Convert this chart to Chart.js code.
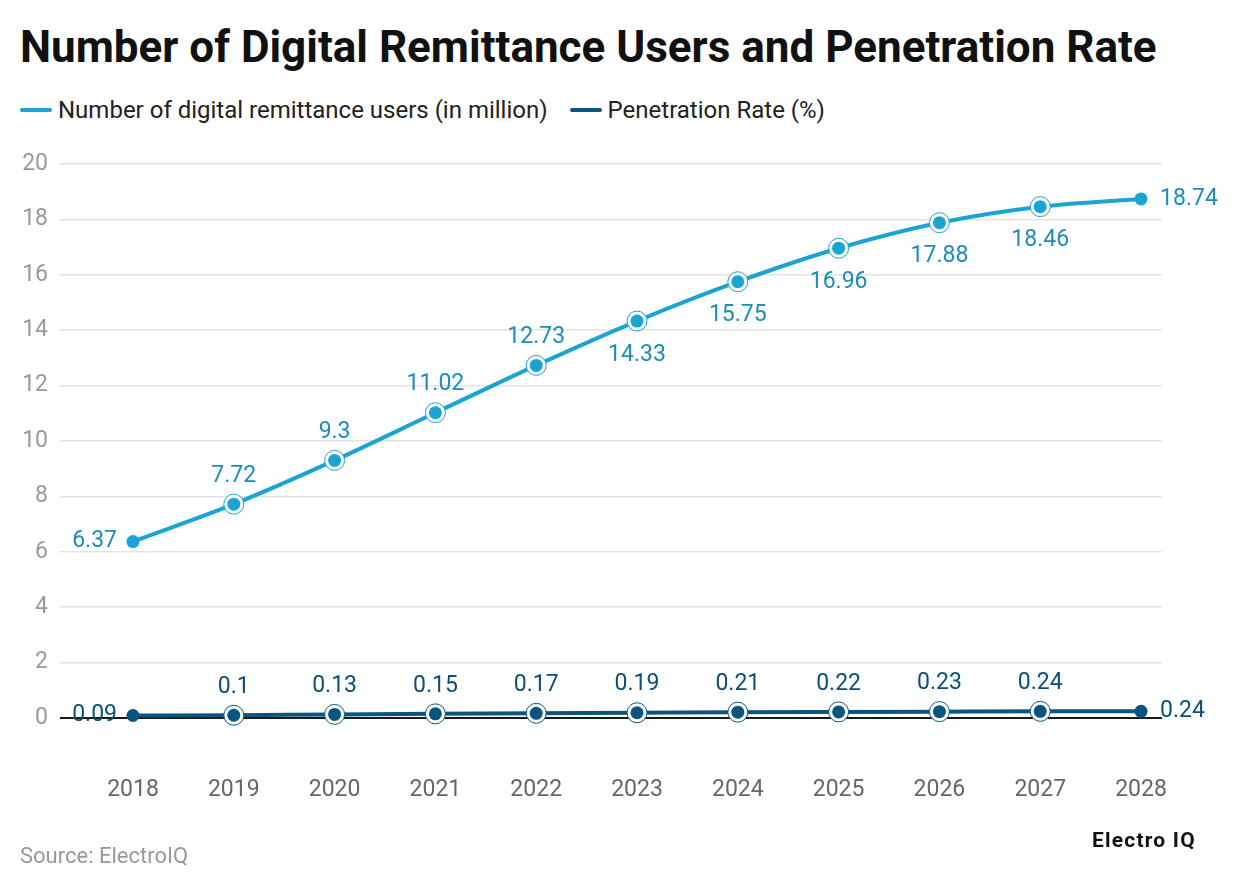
<!DOCTYPE html>
<html>
<head>
<meta charset="utf-8">
<script src="https://cdn.jsdelivr.net/npm/chart.js@4.4.1/dist/chart.umd.min.js"></script>
<style>
  html, body { margin: 0; padding: 0; background: #fff; }
  body { width: 1240px; height: 888px; position: relative; overflow: hidden; font-family: Roboto, sans-serif; }
  .title { position: absolute; left: 20px; top: 25px; font-size: 44px; line-height: 1; font-weight: 700; color: #111; white-space: nowrap; }
  .legend { position: absolute; left: 20px; top: 98px; font-size: 24px; line-height: 1; color: #222; display: flex; align-items: center; white-space: nowrap; }
  .legend .sw { display: inline-block; width: 32px; height: 4px; border-radius: 2px; margin-right: 6px; }
  .legend .item { display: flex; align-items: center; margin-right: 22px; }
  .source { position: absolute; left: 20px; top: 845px; font-size: 22px; line-height: 1; color: #999; }
  .logo { position: absolute; left: 1092px; top: 830px; font-size: 21px; line-height: 1; font-weight: 700; color: #111; letter-spacing: 1.2px; }
  #wrap { position: absolute; left: 0; top: 0; width: 1240px; height: 888px; }
</style>
</head>
<body>
<div class="title">Number of Digital Remittance Users and Penetration Rate</div>
<div class="legend">
  <span class="item"><span class="sw" style="background:#1ba3d3"></span>Number of digital remittance users (in million)</span>
  <span class="item"><span class="sw" style="background:#0a5580"></span>Penetration Rate (%)</span>
</div>
<div id="wrap"><canvas id="chart"></canvas></div>
<div class="source">Source: ElectroIQ</div>
<div class="logo">Electro IQ</div>
<script>
"use strict";

const years = [2018, 2019, 2020, 2021, 2022, 2023, 2024, 2025, 2026, 2027, 2028];
const users = [6.37, 7.72, 9.3, 11.02, 12.73, 14.33, 15.75, 16.96, 17.88, 18.46, 18.74];
const penetration = [0.09, 0.1, 0.13, 0.15, 0.17, 0.19, 0.21, 0.22, 0.23, 0.24, 0.24];
const yTicks = [0, 2, 4, 6, 8, 10, 12, 14, 16, 18, 20];

const seriesNames = ["Number of digital remittance users (in million)", "Penetration Rate (%)"];
const lineColors = ["#1ba3d3", "#0a5580"];
const labelColors = ["#1a8dbb", "#0d4f76"];

Chart.defaults.font.family = "Roboto";

// value labels + ringed markers
const markerLabels = {
  id: "markerLabels",
  afterDatasetsDraw(chart) {
    const ctx = chart.ctx;
    chart.data.datasets.forEach((ds, di) => {
      const meta = chart.getDatasetMeta(di);
      const n = meta.data.length;
      meta.data.forEach((pt, i) => {
        const x = pt.x;
        const y = pt.y;
        ctx.save();
        if (i > 0 && i < n - 1) {
          ctx.beginPath();
          ctx.arc(x, y, 10, 0, Math.PI * 2);
          ctx.fillStyle = "#fff";
          ctx.fill();
          ctx.lineWidth = 1;
          ctx.strokeStyle = lineColors[di];
          ctx.stroke();
        }
        ctx.beginPath();
        ctx.arc(x, y, 6.5, 0, Math.PI * 2);
        ctx.fillStyle = lineColors[di];
        ctx.fill();

        ctx.font = "23px Roboto";
        ctx.fillStyle = labelColors[di];
        ctx.textBaseline = "middle";
        const v = ds.data[i].y;
        const txt = String(v);
        if (i === 0) {
          ctx.textAlign = "right";
          ctx.fillText(txt, x - 16, y);
        } else if (i === n - 1) {
          ctx.textAlign = "left";
          ctx.fillText(txt, x + 19, y);
        } else if (di === 0 && v > 13) {
          ctx.textAlign = "center";
          ctx.fillText(txt, x, y + 34);
        } else {
          ctx.textAlign = "center";
          ctx.fillText(txt, x, y - 28);
        }
        ctx.restore();
      });
    });
  },
};

const toPoints = (arr) => arr.map((v, i) => ({ x: years[i], y: v }));

new Chart(document.getElementById("chart"), {
  type: "line",
  data: {
    datasets: [
      {
        label: seriesNames[0],
        data: toPoints(users),
        borderColor: lineColors[0],
        backgroundColor: lineColors[0],
        borderWidth: 4,
        pointRadius: 0,
        cubicInterpolationMode: "monotone",
      },
      {
        label: seriesNames[1],
        data: toPoints(penetration),
        borderColor: lineColors[1],
        backgroundColor: lineColors[1],
        borderWidth: 4,
        pointRadius: 0,
        cubicInterpolationMode: "monotone",
      },
    ],
  },
  options: {
    responsive: true,
    maintainAspectRatio: false,
    animation: false,
    layout: { padding: { left: 0, top: 164, right: 78, bottom: 80 } },
    plugins: {
      legend: { display: false },
      tooltip: { enabled: false },
    },
    scales: {
      x: {
        type: "linear",
        min: 2017.276,
        max: 2028.208,
        grid: { display: false, drawTicks: false },
        border: { display: false },
        afterBuildTicks: (scale) => {
          scale.ticks = years.map((y) => ({ value: y }));
        },
        afterFit: (scale) => {
          scale.height = 90;
        },
        ticks: {
          color: "#666",
          font: { size: 23 },
          padding: 58,
          maxRotation: 0,
          callback: (v) => String(v),
        },
      },
      y: {
        min: 0,
        max: 20,
        afterBuildTicks: (scale) => {
          scale.ticks = yTicks.map((v) => ({ value: v }));
        },
        afterFit: (scale) => {
          scale.width = 60;
        },
        border: { display: false },
        grid: {
          drawTicks: false,
          lineWidth: (c) => (c.tick && c.tick.value === 0 ? 2 : 1.5),
          color: (c) => (c.tick && c.tick.value === 0 ? "#1a1a1a" : "#e3e3e3"),
        },
        ticks: {
          color: "#9a9a9a",
          font: { size: 23 },
          padding: 12,
        },
      },
    },
  },
  plugins: [markerLabels],
});
</script>
</body>
</html>
